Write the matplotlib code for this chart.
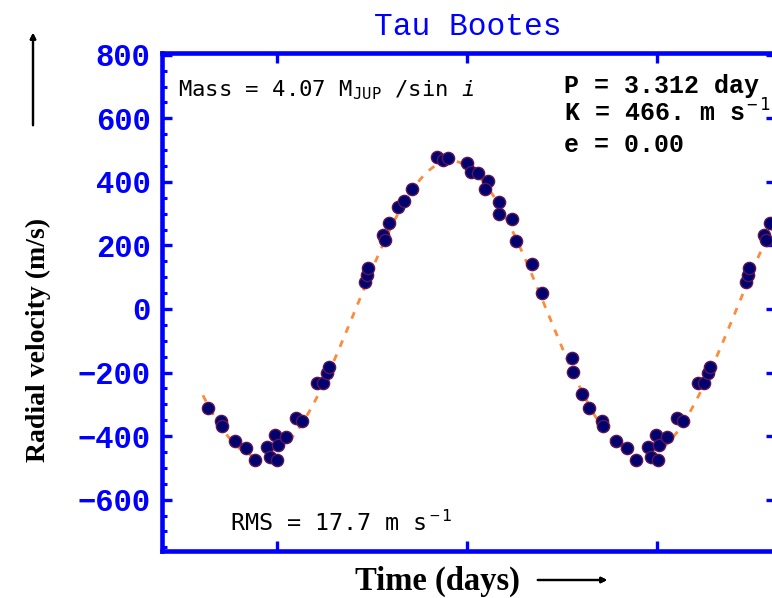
import numpy as np
import matplotlib.pyplot as plt
from matplotlib.ticker import MultipleLocator, FixedLocator

plt.rcParams['mathtext.fontset'] = 'custom'
plt.rcParams['mathtext.rm'] = 'DejaVu Sans Mono'
plt.rcParams['mathtext.it'] = 'DejaVu Sans Mono:italic'

# orbit fit
P = 3.312      # days
K = 466.0      # m/s
ecc = 0.00
t_min = 0.86   # time of velocity minimum (days)
rms = 17.7
mass = 4.07

# phase-folded velocities over one orbit (days, m/s)
t_obs = np.array([0.407, 0.515, 0.523, 0.639, 0.732, 0.813, 0.920, 0.987, 1.010,
                  0.943, 1.002, 1.083, 1.170, 1.219, 1.355, 1.407, 1.437, 1.459,
                  1.770, 1.784, 1.793, 1.929, 1.943, 1.978, 2.059, 2.109, 2.176,
                  2.393, 2.445, 2.489, 2.659, 2.689, 2.750, 2.837, 2.813, 2.935,
                  2.935, 3.045, 3.083, 3.224, 3.306, 3.567, 3.581, 3.654])
v_obs = np.array([-310, -354, -367, -414, -436, -475, -433, -398, -428,
                  -465, -475, -404, -344, -354, -234, -232, -200, -181,
                  86, 107, 128, 233, 217, 270, 320, 340, 378,
                  477, 469, 474, 458, 432, 429, 404, 376, 337,
                  299, 284, 214, 141, 51, -153, -197, -268])

blue = '#0000ff'
W, H = 772, 598


def fx(x):
    return x / W


def fy(y):
    return 1 - y / H


fig = plt.figure(figsize=(7.72, 5.98), dpi=100)
ax = fig.add_axes([0.2092, 0.0794, 0.796, 0.8328])

# model curve
t = np.linspace(0.36, 5.4, 600)
v = -K * np.cos(2 * np.pi * (t - t_min) / P)
ax.plot(t, v, color='#ff8a3a', lw=2.0, ls=(0, (2.5, 3)), zorder=2)

# data shown over two cycles
for shift in [0, P]:
    ax.plot(t_obs + shift, v_obs, 'o', ms=8.8, mfc='#000070', mec='#601650',
            mew=1.0, zorder=3)

ax.set_xlim(0, 5.343)
ax.set_ylim(-760, 807)

for s in ax.spines.values():
    s.set_color(blue)
    s.set_linewidth(3.3)

ax.xaxis.set_major_locator(FixedLocator([1.0, 1.0 + P / 2, 1.0 + P]))
ax.yaxis.set_major_locator(MultipleLocator(200))
ax.yaxis.set_minor_locator(MultipleLocator(50))
ax.tick_params(axis='both', which='both', direction='in', color=blue,
               top=True, right=True)
ax.tick_params(which='major', length=7.5, width=2.4)
ax.tick_params(which='minor', length=3.8, width=2.2)
ax.tick_params(axis='y', which='minor', right=False)
ax.tick_params(axis='x', labelbottom=False)
ax.tick_params(axis='y', labelcolor=blue, labelsize=22, pad=8)
for lab in ax.get_yticklabels():
    lab.set_fontfamily('Liberation Mono')
    lab.set_fontweight('bold')

fig.text(fx(468), fy(35), 'Tau Bootes', color=blue, fontsize=22.5,
         family='Liberation Mono', ha='center', va='baseline')

fig.text(fx(178), fy(96), r'Mass = %.2f M$_{\rm JUP}$ /sin $i$' % mass,
         fontsize=16, family='DejaVu Sans Mono', ha='left', va='baseline')
fig.text(fx(564), fy(93), 'P = %.3f day' % P, fontsize=18,
         family='Liberation Mono', weight='bold', ha='left', va='baseline')
fig.text(fx(564), fy(122), r'K = %d. m s$^{\rm -1}$' % K, fontsize=18,
         family='Liberation Mono', weight='bold', ha='left', va='baseline')
fig.text(fx(564), fy(152), 'e = %.2f' % ecc, fontsize=18,
         family='Liberation Mono', weight='bold', ha='left', va='baseline')
fig.text(fx(230), fy(531), r'RMS = %.1f m s$^{\rm -1}$' % rms,
         fontsize=16.8, family='DejaVu Sans Mono', ha='left', va='baseline')

# axis captions with arrows
fig.text(fx(38), fy(340), 'Radial velocity (m/s)', rotation=90,
         fontsize=20, family='Liberation Serif', weight='bold',
         ha='center', va='center')
fig.text(fx(437), fy(581), 'Time (days)', fontsize=23.5,
         family='Liberation Serif', weight='bold', ha='center', va='center')
arrow = dict(arrowstyle='-|>', color='black', lw=1.6, mutation_scale=8)
fig.add_artist(plt.annotate('', xy=(fx(33), fy(30)), xytext=(fx(33), fy(128)),
                            xycoords='figure fraction', textcoords='figure fraction',
                            arrowprops=arrow))
fig.add_artist(plt.annotate('', xy=(fx(610), fy(580)), xytext=(fx(535), fy(580)),
                            xycoords='figure fraction', textcoords='figure fraction',
                            arrowprops=arrow))

fig.savefig('out.png', dpi=100)
